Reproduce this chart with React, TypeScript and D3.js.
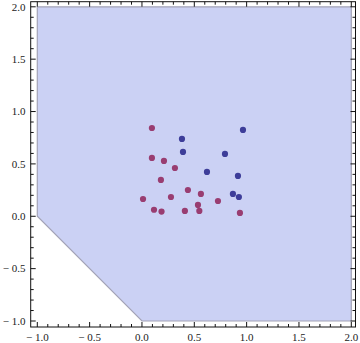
import React from "react";
import * as d3 from "d3";

const W = 360;
const H = 343;

// region polygon corners (data units)
const regionX = [-1, -1, 2, 2, 0];
const regionY = [0, 2, 2, -1, -1];

// blue series
const blueX = [0.382, 0.965, 0.392, 0.793, 0.621, 0.917, 0.869, 0.926];
const blueY = [0.738, 0.824, 0.614, 0.595, 0.423, 0.385, 0.213, 0.184];

// maroon series
const redX = [0.095, 0.095, 0.21, 0.315, 0.181, 0.439, 0.563, 0.01, 0.277, 0.726, 0.535, 0.115, 0.187, 0.41, 0.548, 0.936];
const redY = [0.843, 0.557, 0.528, 0.461, 0.347, 0.251, 0.213, 0.165, 0.184, 0.146, 0.108, 0.062, 0.045, 0.051, 0.051, 0.032];

const majorTicks = [-1, -0.5, 0, 0.5, 1, 1.5, 2];
const tickLabels = ["− 1.0", "− 0.5", "0.0", "0.5", "1.0", "1.5", "2.0"];

// frame in pixels
const FRAME = { left: 30.7, right: 355.5, top: 1.7, bottom: 327 };

export default function App() {
  const x = d3.scaleLinear().domain([-1, 2]).range([37.3, 351.3]);
  const y = d3.scaleLinear().domain([-1, 2]).range([321, 6.8]);

  const minorTicks = d3.range(-10, 21).map((i) => i / 10).filter((v) => x(v) > FRAME.left && x(v) < FRAME.right);
  const minorTicksY = d3.range(-10, 21).map((i) => i / 10).filter((v) => y(v) < FRAME.bottom && y(v) > FRAME.top);

  const poly = regionX.map((v, i) => [x(v), y(regionY[i])] as [number, number]);
  const line = d3.line();

  const isMajor = (v: number) => Math.abs(v * 2 - Math.round(v * 2)) < 1e-6;

  return (
    <svg width={W} height={H} style={{ position: "absolute", left: 0, top: 0 }}>
      <path d={line(poly) + "Z"} fill="#cbd1f4" stroke="#a3a3b6" strokeWidth={1.2} />
      {redX.map((v, i) => (
        <circle key={"r" + i} cx={x(v)} cy={y(redY[i])} r={3.1} fill="#993d71" />
      ))}
      {blueX.map((v, i) => (
        <circle key={"b" + i} cx={x(v)} cy={y(blueY[i])} r={3.1} fill="#3d3d99" />
      ))}
      {/* frame */}
      <rect x={FRAME.left} y={FRAME.top} width={FRAME.right - FRAME.left} height={FRAME.bottom - FRAME.top}
        fill="none" stroke="#111" strokeWidth={1} />
      {/* ticks */}
      {minorTicks.map((v) => {
        const len = isMajor(v) ? 5 : 3;
        return (
          <g key={"tx" + v} stroke="#111" strokeWidth={1}>
            <line x1={x(v)} x2={x(v)} y1={FRAME.bottom} y2={FRAME.bottom - len} />
            <line x1={x(v)} x2={x(v)} y1={FRAME.top} y2={FRAME.top + len} />
          </g>
        );
      })}
      {minorTicksY.map((v) => {
        const len = isMajor(v) ? 5 : 3;
        return (
          <g key={"ty" + v} stroke="#111" strokeWidth={1}>
            <line y1={y(v)} y2={y(v)} x1={FRAME.left} x2={FRAME.left + len} />
            <line y1={y(v)} y2={y(v)} x1={FRAME.right} x2={FRAME.right - len} />
          </g>
        );
      })}
      {/* labels */}
      <g fontFamily="'Liberation Serif', serif" fontSize={11} fill="#222">
        {majorTicks.map((v, i) => (
          <text key={"lx" + v} x={x(v)} y={341} textAnchor="middle">{tickLabels[i]}</text>
        ))}
        {majorTicks.map((v, i) => (
          <text key={"ly" + v} x={25.5} y={y(v) + 3.8} textAnchor="end">{tickLabels[i]}</text>
        ))}
      </g>
    </svg>
  );
}
